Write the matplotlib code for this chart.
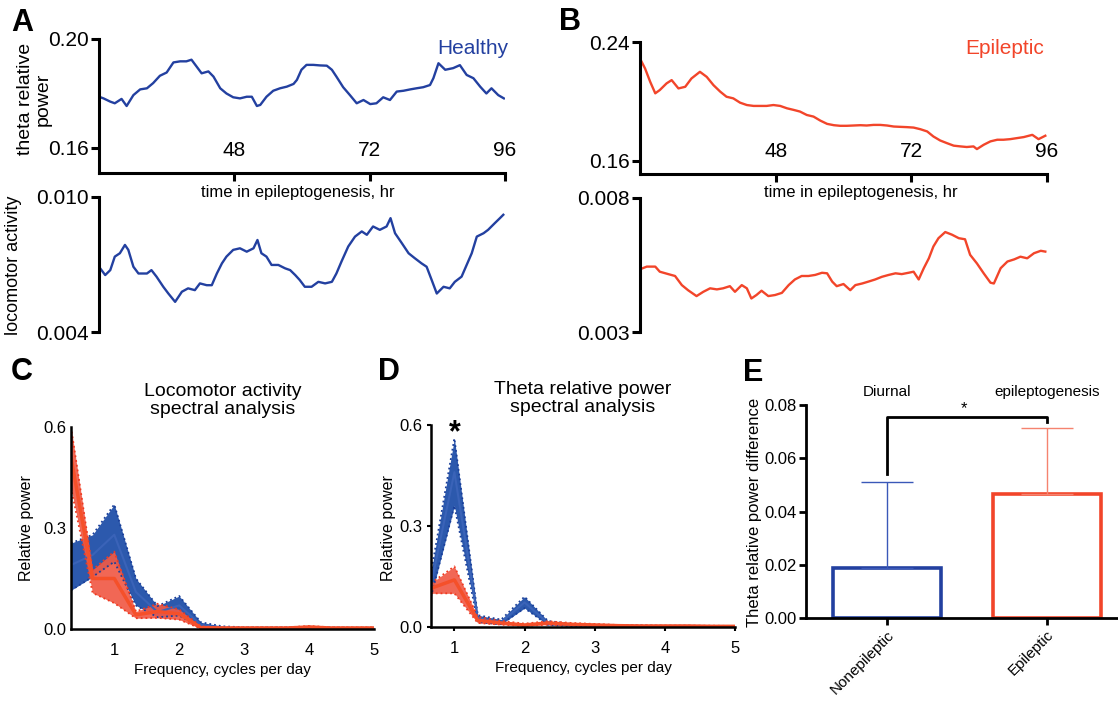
import numpy as np
import matplotlib
matplotlib.use('Agg')
import matplotlib.pyplot as plt

plt.rcParams['font.family'] = ['Liberation Sans', 'DejaVu Sans']

BLUE = '#2340a0'
RED = '#f2452a'
BLUE_BAND = '#1a4ba6'
RED_BAND = '#f05a46'

# ---- panel A / B time series (hours, value) ----
hr_a_theta = [24.0, 24.8, 26.0, 26.8, 28.0, 28.9, 30.1, 31.3, 32.5, 33.6, 34.8, 36.0, 37.2, 38.4,
              39.5, 40.4, 41.3, 42.2, 43.4, 44.3, 45.5, 46.6, 47.8, 49.0, 50.2, 51.1, 52.0, 52.6,
              53.7, 54.9, 56.1, 57.3, 58.5, 59.1, 59.9, 60.8, 62.0, 63.2, 64.4, 65.3, 66.1, 67.3,
              68.5, 69.7, 70.9, 72.1, 73.2, 74.4, 75.6, 76.8, 78.0, 79.2, 80.3, 81.5, 82.7, 83.3,
              84.2, 85.4, 86.8, 88.0, 89.2, 90.4, 91.6, 92.7, 93.6, 94.8, 95.8]
a_theta = [0.1788, 0.1782, 0.1770, 0.1764, 0.1780, 0.1754, 0.1794, 0.1815, 0.1819, 0.1838, 0.1865,
           0.1877, 0.1914, 0.1918, 0.1918, 0.1924, 0.1899, 0.1874, 0.1881, 0.1862, 0.1819, 0.1800,
           0.1786, 0.1782, 0.1788, 0.1788, 0.1754, 0.1758, 0.1788, 0.1810, 0.1819, 0.1825, 0.1835,
           0.1850, 0.1887, 0.1905, 0.1905, 0.1903, 0.1902, 0.1887, 0.1862, 0.1823, 0.1794, 0.1764,
           0.1776, 0.1761, 0.1764, 0.1786, 0.1776, 0.1807, 0.1810, 0.1815, 0.1819, 0.1823, 0.1831,
           0.1856, 0.1911, 0.1887, 0.1893, 0.1904, 0.1868, 0.1856, 0.1825, 0.1800, 0.1819, 0.1794,
           0.1782]

hr_a_loco = [24.0, 25.1, 26.0, 26.8, 27.7, 28.6, 29.2, 30.1, 31.0, 32.5, 33.3, 34.2, 35.4, 36.3,
             37.5, 38.7, 39.8, 41.0, 41.9, 43.1, 44.0, 44.9, 45.8, 46.6, 47.8, 49.0, 50.2, 51.4,
             52.1, 52.8, 53.7, 54.6, 55.8, 57.0, 57.9, 58.8, 59.6, 60.5, 61.7, 62.9, 64.1, 65.3,
             66.1, 67.0, 68.2, 69.4, 70.6, 71.5, 72.6, 73.8, 75.0, 75.7, 76.5, 77.7, 78.9, 80.0,
             81.2, 82.1, 83.0, 83.9, 85.1, 86.2, 87.1, 88.3, 89.2, 90.1, 91.0, 92.2, 93.0, 94.2,
             95.1, 95.7]
a_loco = [0.00690, 0.00653, 0.00675, 0.00735, 0.00750, 0.00787, 0.00765, 0.00690, 0.00660, 0.00660,
          0.00675, 0.00646, 0.00601, 0.00571, 0.00534, 0.00579, 0.00594, 0.00586, 0.00616, 0.00608,
          0.00608, 0.00660, 0.00705, 0.00735, 0.00765, 0.00772, 0.00757, 0.00772, 0.00809, 0.00750,
          0.00735, 0.00698, 0.00698, 0.00683, 0.00675, 0.00653, 0.00631, 0.00601, 0.00601, 0.00623,
          0.00616, 0.00623, 0.00660, 0.00713, 0.00780, 0.00824, 0.00847, 0.00832, 0.00869, 0.00854,
          0.00869, 0.00906, 0.00839, 0.00795, 0.00750, 0.00728, 0.00705, 0.00690, 0.00631, 0.00571,
          0.00601, 0.00594, 0.00623, 0.00646, 0.00698, 0.00750, 0.00824, 0.00839, 0.00854, 0.00884,
          0.00906, 0.00921]

hr_b_theta = [24.0, 24.9, 25.8, 26.7, 27.5, 28.7, 29.6, 30.8, 32.0, 33.1, 34.6, 35.8, 37.0, 38.2,
              39.3, 40.5, 41.7, 42.9, 44.1, 45.3, 46.4, 47.6, 48.8, 50.0, 51.2, 52.3, 53.5, 54.7,
              55.9, 57.1, 58.3, 59.4, 60.6, 61.8, 63.0, 64.1, 65.3, 66.5, 67.7, 68.9, 70.0, 71.2,
              72.4, 73.6, 74.8, 75.9, 77.1, 78.3, 79.5, 80.7, 81.8, 83.0, 83.6, 84.8, 86.0, 87.2,
              88.3, 89.5, 90.7, 91.9, 93.4, 94.5, 95.7]
b_theta = [0.2288, 0.2221, 0.2132, 0.2054, 0.2076, 0.2121, 0.2143, 0.2087, 0.2098, 0.2154, 0.2199,
           0.2165, 0.2109, 0.2065, 0.2031, 0.2020, 0.1991, 0.1975, 0.1969, 0.1969, 0.1969, 0.1975,
           0.1969, 0.1953, 0.1942, 0.1931, 0.1908, 0.1897, 0.1870, 0.1848, 0.1839, 0.1835, 0.1835,
           0.1837, 0.1839, 0.1837, 0.1841, 0.1841, 0.1837, 0.1830, 0.1828, 0.1826, 0.1823, 0.1812,
           0.1797, 0.1763, 0.1736, 0.1718, 0.1701, 0.1696, 0.1692, 0.1696, 0.1678, 0.1707, 0.1730,
           0.1741, 0.1741, 0.1745, 0.1752, 0.1759, 0.1774, 0.1745, 0.1768]

hr_b_loco = [24.0, 25.2, 26.7, 27.5, 29.0, 30.2, 31.4, 32.5, 34.0, 35.2, 36.4, 37.6, 38.7, 39.9,
             40.8, 42.0, 42.9, 43.7, 44.6, 45.5, 46.7, 47.9, 49.1, 50.3, 51.4, 52.6, 53.8, 55.0,
             56.2, 57.1, 58.0, 58.8, 60.0, 61.2, 62.1, 63.3, 64.4, 65.6, 66.8, 68.0, 69.2, 70.3,
             71.5, 72.4, 73.3, 74.2, 75.1, 75.9, 76.8, 78.0, 79.2, 80.4, 81.5, 82.4, 83.6, 84.8,
             86.0, 86.6, 87.8, 89.0, 90.2, 91.3, 92.5, 93.7, 94.9, 95.7]
b_loco = [0.00534, 0.00544, 0.00544, 0.00525, 0.00516, 0.00509, 0.00475, 0.00456, 0.00434, 0.00450,
          0.00463, 0.00459, 0.00463, 0.00471, 0.00450, 0.00475, 0.00463, 0.00425, 0.00438, 0.00454,
          0.00434, 0.00438, 0.00446, 0.00475, 0.00496, 0.00509, 0.00509, 0.00513, 0.00521, 0.00519,
          0.00488, 0.00471, 0.00479, 0.00456, 0.00475, 0.00481, 0.00488, 0.00496, 0.00506, 0.00513,
          0.00519, 0.00516, 0.00521, 0.00525, 0.00496, 0.00538, 0.00575, 0.00619, 0.00650, 0.00673,
          0.00663, 0.00650, 0.00646, 0.00588, 0.00556, 0.00519, 0.00484, 0.00481, 0.00538, 0.00563,
          0.00571, 0.00581, 0.00575, 0.00594, 0.00603, 0.00600]

# ---- panel C / D spectra ----
freq_c = [1/3, 2/3, 1, 4/3, 5/3, 2, 7/3, 8/3, 3, 10/3, 11/3, 4, 13/3, 14/3, 5]
c_blue = [0.19, 0.22, 0.28, 0.11, 0.05, 0.07, 0.012, 0.004, 0.003, 0.003, 0.003, 0.004, 0.003, 0.003, 0.003]
c_blue_hi = [0.255, 0.28, 0.37, 0.15, 0.068, 0.098, 0.02, 0.008, 0.005, 0.005, 0.005, 0.007, 0.005, 0.004, 0.004]
c_blue_lo = [0.115, 0.155, 0.20, 0.07, 0.035, 0.04, 0.004, 0.001, 0.001, 0.001, 0.001, 0.001, 0.001, 0.001, 0.001]
c_red = [0.51, 0.15, 0.15, 0.042, 0.052, 0.045, 0.004, 0.003, 0.003, 0.003, 0.003, 0.006, 0.003, 0.003, 0.003]
c_red_hi = [0.60, 0.176, 0.23, 0.052, 0.075, 0.058, 0.008, 0.005, 0.005, 0.005, 0.005, 0.009, 0.005, 0.005, 0.005]
c_red_lo = [0.42, 0.107, 0.077, 0.032, 0.033, 0.028, 0.001, 0.001, 0.001, 0.001, 0.001, 0.003, 0.001, 0.001, 0.001]

freq_d = [2/3, 1, 4/3, 5/3, 2, 7/3, 8/3, 3, 10/3, 11/3, 4, 13/3, 14/3, 5]
d_blue = [0.125, 0.46, 0.025, 0.015, 0.073, 0.012, 0.006, 0.005, 0.004, 0.003, 0.003, 0.003, 0.002, 0.002]
d_blue_hi = [0.16, 0.56, 0.035, 0.022, 0.09, 0.018, 0.009, 0.007, 0.006, 0.005, 0.004, 0.004, 0.003, 0.003]
d_blue_lo = [0.09, 0.36, 0.015, 0.008, 0.056, 0.006, 0.003, 0.003, 0.002, 0.001, 0.001, 0.001, 0.001, 0.001]
d_red = [0.115, 0.14, 0.02, 0.012, 0.006, 0.012, 0.008, 0.006, 0.004, 0.003, 0.003, 0.003, 0.002, 0.002]
d_red_hi = [0.13, 0.18, 0.03, 0.018, 0.010, 0.017, 0.012, 0.009, 0.006, 0.005, 0.004, 0.004, 0.004, 0.003]
d_red_lo = [0.10, 0.10, 0.012, 0.007, 0.003, 0.007, 0.004, 0.003, 0.002, 0.001, 0.001, 0.001, 0.001, 0.001]

# ---- panel E bars ----
groups = ['Nonepileptic', 'Epileptic']
diff_mean = [0.0188, 0.0467]
diff_err = [0.0323, 0.0246]
bracket_left, bracket_top, bracket_right = 0.054, 0.0755, 0.0737

W, H = 1118, 701
fig = plt.figure(figsize=(W / 100, H / 100), dpi=100)


def rect(l, t, r, b):
    return [l / W, 1 - b / H, (r - l) / W, (b - t) / H]


def ftext(x, y, s, **kw):
    fig.text(x / W, 1 - y / H, s, **kw)


def trace_axes(box, hrs, vals, color, ylim, yticks, ylabels, top):
    ax = fig.add_axes(rect(*box))
    ax.plot(hrs, vals, color=color, lw=1.7)
    ax.set_xlim(24, 96)
    ax.set_ylim(*ylim)
    ax.set_yticks(yticks)
    ax.set_yticklabels(ylabels)
    for s in ['top', 'right']:
        ax.spines[s].set_visible(False)
    ax.spines['left'].set_linewidth(2.2)
    ax.tick_params(axis='y', length=6, width=2.2, pad=1.5, labelsize=15)
    if top:
        ax.spines['bottom'].set_linewidth(2.2)
        ax.set_xticks([48, 72, 96])
        ax.tick_params(axis='x', length=6, width=2.2, pad=-29, labelsize=15)
    else:
        ax.spines['bottom'].set_visible(False)
        ax.set_xticks([])
    ax.patch.set_alpha(0)
    return ax


trace_axes((99, 39, 505, 173), hr_a_theta, a_theta, BLUE, (0.1508, 0.20), [0.16, 0.20], ['0.16', '0.20'], True)
trace_axes((99, 197, 505, 332), hr_a_loco, a_loco, BLUE, (0.004, 0.010), [0.004, 0.010], ['0.004', '0.010'], False)
trace_axes((640, 42, 1047, 174), hr_b_theta, b_theta, RED, (0.151, 0.24), [0.16, 0.24], ['0.16', '0.24'], True)
trace_axes((640, 198, 1047, 332), hr_b_loco, b_loco, RED, (0.003, 0.008), [0.003, 0.008], ['0.003', '0.008'], False)

ftext(298, 193, 'time in epileptogenesis, hr', ha='center', va='center', fontsize=12)
ftext(861, 193, 'time in epileptogenesis, hr', ha='center', va='center', fontsize=12)
ftext(473, 48, 'Healthy', ha='center', va='center', fontsize=15, color=BLUE)
ftext(1005, 48, 'Epileptic', ha='center', va='center', fontsize=15, color=RED)
ftext(34, 99, 'theta relative\npower', ha='center', va='center', rotation=90, fontsize=14, linespacing=1.05)
ftext(14, 265, 'locomotor activity', ha='center', va='center', rotation=90, fontsize=13)


def spectrum_axes(box, freq, series, xmin, title, tick_len):
    ax = fig.add_axes(rect(*box))
    for mean, lo, hi, band, edge, line, lw in series:
        ax.fill_between(freq, lo, hi, color=band, alpha=0.92, lw=0)
        ax.plot(freq, hi, ':', color=edge, lw=1.3)
        ax.plot(freq, lo, ':', color=edge, lw=1.3)
        ax.plot(freq, mean, color=line, lw=lw)
    ax.set_xlim(xmin, 5)
    ax.set_ylim(0, 0.6)
    ax.set_xticks([1, 2, 3, 4, 5])
    ax.set_yticks([0.0, 0.3, 0.6])
    ax.set_yticklabels(['0.0', '0.3', '0.6'])
    for s in ['top', 'right']:
        ax.spines[s].set_visible(False)
    for s in ['left', 'bottom']:
        ax.spines[s].set_linewidth(1.8)
    ax.tick_params(axis='both', length=tick_len, width=1.5, labelsize=12, pad=3)
    ax.tick_params(axis='x', pad=10 - tick_len)
    ax.set_title(title, fontsize=14, pad=9, linespacing=1.1)
    ax.set_xlabel('Frequency, cycles per day', fontsize=11, labelpad=4)
    ax.patch.set_alpha(0)
    return ax


blue_c = (c_blue, c_blue_lo, c_blue_hi, BLUE_BAND, '#1a3f9a', '#3a63b8', 1.5)
red_c = (c_red, c_red_lo, c_red_hi, RED_BAND, '#f03a20', '#f5502a', 2.5)
axc = spectrum_axes((71, 427, 374, 629), freq_c, [blue_c, red_c], 1 / 3,
                    'Locomotor activity\nspectral analysis', 0)
blue_d = (d_blue, d_blue_lo, d_blue_hi, BLUE_BAND, '#1a3f9a', '#3a63b8', 1.5)
red_d = (d_red, d_red_lo, d_red_hi, RED_BAND, '#f03a20', '#f5502a', 2.5)
axd = spectrum_axes((431, 425, 735, 627), freq_d, [blue_d, red_d], 2 / 3,
                    'Theta relative power\nspectral analysis', 3)
axd.text(1, 0.575, '*', ha='center', va='center', fontsize=22, fontweight='bold')
ftext(27, 528, 'Relative power', ha='center', va='center', rotation=90, fontsize=11.5)
ftext(388, 528, 'Relative power', ha='center', va='center', rotation=90, fontsize=11.5)

# ---- panel E ----
axe = fig.add_axes(rect(806, 405, 1117, 618))
x = np.arange(len(groups))
axe.bar(x, diff_mean, width=0.675, fill=False, edgecolor=[BLUE, RED], lw=2.6)
err_colors = ['#3a58b8', '#f5836f']
for i in range(len(groups)):
    axe.errorbar(x[i], diff_mean[i], yerr=[[0], [diff_err[i]]], color=err_colors[i],
                 lw=1, capsize=19, capthick=1)
axe.plot([0, 0, 1, 1], [bracket_left, bracket_top, bracket_top, bracket_right], color='k', lw=2)
axe.text(0.48, bracket_top + 0.0003, '*', ha='center', va='bottom', fontsize=12)
axe.text(0, 0.085, 'Diurnal', ha='center', va='center', fontsize=11)
axe.text(1, 0.085, 'epileptogenesis', ha='center', va='center', fontsize=11)
axe.set_xlim(-0.506, 1.44)
axe.set_ylim(0, 0.08)
axe.set_yticks([0.0, 0.02, 0.04, 0.06, 0.08])
axe.set_yticklabels(['0.00', '0.02', '0.04', '0.06', '0.08'])
axe.set_xticks(x)
axe.set_xticklabels(groups, rotation=45, ha='right', rotation_mode='anchor', fontsize=11)
for s in ['top', 'right']:
    axe.spines[s].set_visible(False)
for s in ['left', 'bottom']:
    axe.spines[s].set_linewidth(2)
axe.tick_params(axis='both', length=5, width=2, labelsize=12, pad=2)
axe.tick_params(axis='x', pad=2, labelsize=11)
axe.patch.set_alpha(0)
ftext(755, 512, 'Theta relative power difference', ha='center', va='center', rotation=90, fontsize=12)

# panel letters
for lab, px, py in [('A', 22, 23), ('B', 570, 22), ('C', 22, 372), ('D', 389, 372), ('E', 753, 373)]:
    ftext(px, py, lab, ha='center', va='center', fontsize=22, fontweight='bold')

fig.savefig('out.png', dpi=100)
